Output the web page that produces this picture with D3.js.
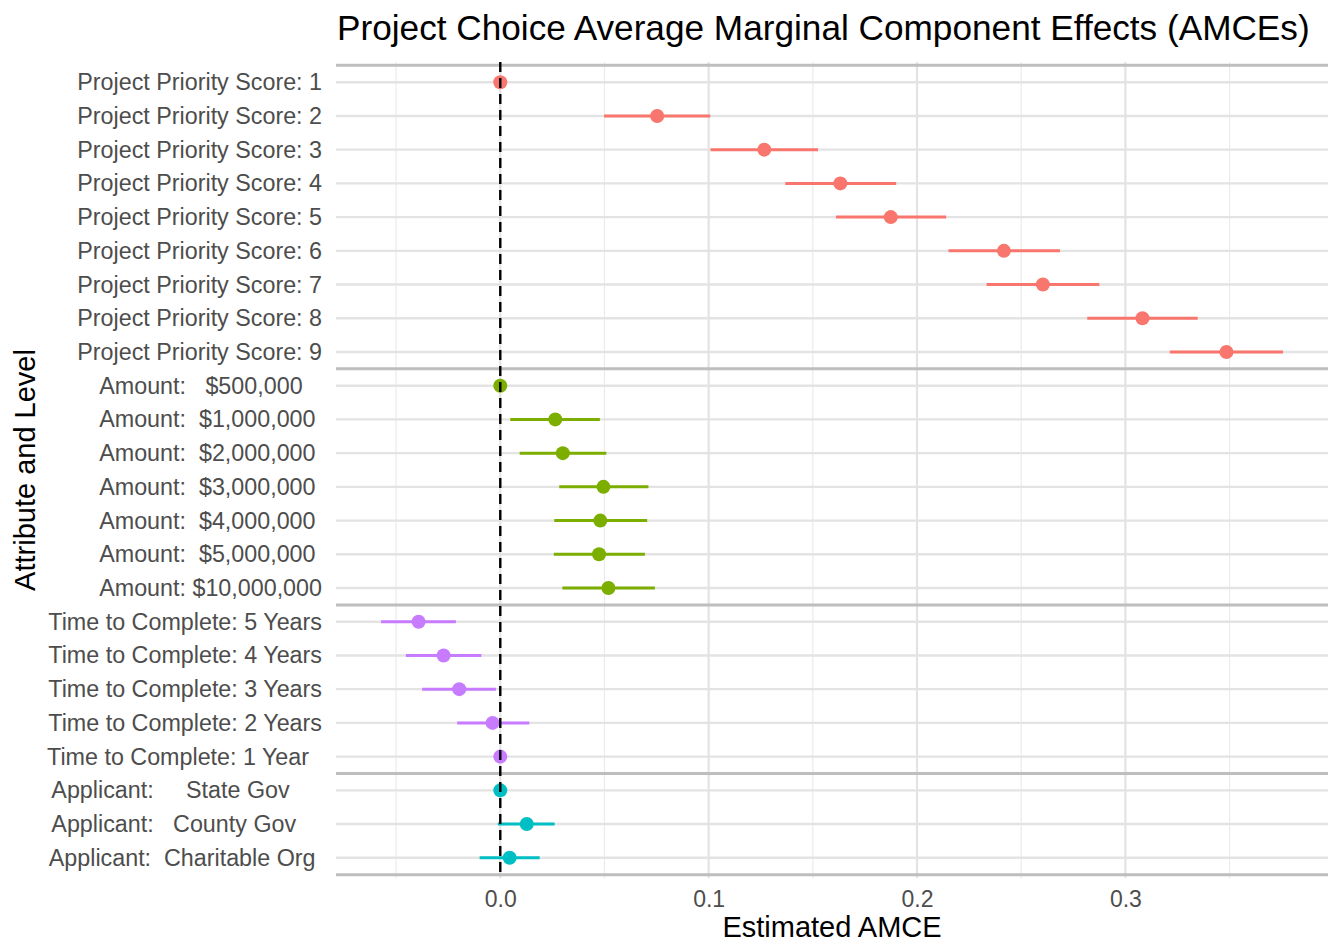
<!DOCTYPE html>
<html>
<head>
<meta charset="utf-8">
<script src="https://cdn.jsdelivr.net/npm/d3@7"></script>
<style>
  body { margin: 0; background: #fff; }
  text { font-family: "Liberation Sans", Arial, sans-serif; }
</style>
</head>
<body>
<div id="chart"></div>
<script>
// levels, top to bottom (padding spaces kept as in the original labels)
var levels = [
  "Project Priority Score: 1", "Project Priority Score: 2", "Project Priority Score: 3",
  "Project Priority Score: 4", "Project Priority Score: 5", "Project Priority Score: 6",
  "Project Priority Score: 7", "Project Priority Score: 8", "Project Priority Score: 9",
  "Amount:   $500,000   ", "Amount:  $1,000,000 ", "Amount:  $2,000,000 ",
  "Amount:  $3,000,000 ", "Amount:  $4,000,000 ", "Amount:  $5,000,000 ",
  "Amount: $10,000,000",
  "Time to Complete: 5 Years", "Time to Complete: 4 Years", "Time to Complete: 3 Years",
  "Time to Complete: 2 Years", "Time to Complete: 1 Year  ",
  "Applicant:     State Gov     ", "Applicant:   County Gov    ", "Applicant:  Charitable Org "
];
var attributes = ["Project Priority Score", "Amount", "Time to Complete", "Applicant"];
var attrOf = [0,0,0,0,0,0,0,0,0, 1,1,1,1,1,1,1, 2,2,2,2,2, 3,3,3];

var estimate = [0, 0.0753, 0.1267, 0.1632, 0.1874, 0.2417, 0.2604, 0.3082, 0.3485,
                0, 0.0264, 0.0300, 0.0495, 0.0480, 0.0474, 0.0519,
                -0.0392, -0.0272, -0.0197, -0.0037, 0,
                0, 0.0127, 0.0045];
var ciLow = [0, 0.0498, 0.1009, 0.1368, 0.1611, 0.2151, 0.2334, 0.2817, 0.3213,
             0, 0.0048, 0.0093, 0.0283, 0.0259, 0.0257, 0.0298,
             -0.0572, -0.0453, -0.0375, -0.0207, 0,
             0, -0.0012, -0.0099];
var ciHigh = [0, 0.1008, 0.1525, 0.1900, 0.2140, 0.2686, 0.2875, 0.3347, 0.3756,
              0, 0.0478, 0.0509, 0.0711, 0.0705, 0.0694, 0.0742,
              -0.0213, -0.0091, -0.0021, 0.0139, 0,
              0, 0.0261, 0.0189];

var xTicks = [0, 0.1, 0.2, 0.3];
var xMinor = [-0.05, 0.05, 0.15, 0.25, 0.35];
var colors = ["#F8766D", "#7CAE00", "#C77CFF", "#00BFC4"];

var W = 1335, H = 944;
var panel = {left: 336, right: 1328, top: 62, bottom: 878};

var svg = d3.select("#chart").append("svg")
  .attr("width", W).attr("height", H);

// x scale with 5% expansion like ggplot
var lo = d3.min(ciLow), hi = d3.max(ciHigh), pad = (hi - lo) * 0.05;
var x = d3.scaleLinear().domain([lo - pad, hi + pad]).range([panel.left, panel.right]);

var y = d3.scalePoint().domain(levels).range([panel.top, panel.bottom]).padding(0.6);
var step = y.step();

// grid
var grid = svg.append("g");
grid.selectAll(".xminor").data(xMinor.filter(function(d){ return x(d) < panel.right; }))
  .enter().append("line")
    .attr("x1", function(d){ return x(d); }).attr("x2", function(d){ return x(d); })
    .attr("y1", panel.top).attr("y2", panel.bottom)
    .attr("stroke", "#EBEBEB").attr("stroke-width", 1.2);
grid.selectAll(".xmajor").data(xTicks)
  .enter().append("line")
    .attr("x1", function(d){ return x(d); }).attr("x2", function(d){ return x(d); })
    .attr("y1", panel.top).attr("y2", panel.bottom)
    .attr("stroke", "#E3E3E3").attr("stroke-width", 2.2);
grid.selectAll(".ymajor").data(levels)
  .enter().append("line")
    .attr("x1", panel.left).attr("x2", panel.right)
    .attr("y1", function(d){ return y(d); }).attr("y2", function(d){ return y(d); })
    .attr("stroke", "#E3E3E3").attr("stroke-width", 2.4);

// separators between attributes
var seps = [];
attributes.forEach(function(a, i) {
  var rows = levels.filter(function(d, j){ return attrOf[j] === i; });
  if (i === 0) seps.push(y(rows[0]) - step / 2);
  seps.push(y(rows[rows.length - 1]) + step / 2);
});
svg.append("g").selectAll("line").data(seps)
  .enter().append("line")
    .attr("x1", panel.left).attr("x2", panel.right)
    .attr("y1", function(d){ return d; }).attr("y2", function(d){ return d; })
    .attr("stroke", "#BEBEBE").attr("stroke-width", 3);

// error bars + points
var rows = levels.map(function(d, i) {
  return {label: d, est: estimate[i], lo: ciLow[i], hi: ciHigh[i], col: colors[attrOf[i]]};
});
svg.append("g").selectAll("line").data(rows)
  .enter().append("line")
    .attr("x1", function(d){ return x(d.lo); }).attr("x2", function(d){ return x(d.hi); })
    .attr("y1", function(d){ return y(d.label); }).attr("y2", function(d){ return y(d.label); })
    .attr("stroke", function(d){ return d.col; }).attr("stroke-width", 3);
svg.append("g").selectAll("circle").data(rows)
  .enter().append("circle")
    .attr("cx", function(d){ return x(d.est); })
    .attr("cy", function(d){ return y(d.label); })
    .attr("r", 7)
    .attr("fill", function(d){ return d.col; });

// zero line
svg.append("line")
  .attr("x1", x(0)).attr("x2", x(0))
  .attr("y1", panel.top).attr("y2", panel.bottom)
  .attr("stroke", "#000").attr("stroke-width", 2.4)
  .attr("stroke-dasharray", "10,6");

// axes
var xAxis = svg.append("g")
  .attr("transform", "translate(0," + panel.bottom + ")")
  .call(d3.axisBottom(x).tickValues(xTicks).tickFormat(d3.format(".1f")).tickSize(0).tickPadding(13));
xAxis.select(".domain").remove();
xAxis.selectAll("text").style("font-size", "23px").attr("fill", "#4D4D4D")
  .style("font-family", "'Liberation Sans', Arial, sans-serif");

var yAxis = svg.append("g")
  .attr("transform", "translate(" + panel.left + ",0)")
  .call(d3.axisLeft(y).tickSize(0).tickPadding(14));
yAxis.select(".domain").remove();
yAxis.selectAll("text").style("font-size", "23.3px").attr("fill", "#4D4D4D")
  .attr("xml:space", "preserve").style("white-space", "pre")
  .style("font-family", "'Liberation Sans', Arial, sans-serif");

// titles
svg.append("text").attr("x", panel.left + 1).attr("y", 40)
  .style("font-size", "35.2px").attr("fill", "#000")
  .text("Project Choice Average Marginal Component Effects (AMCEs)");
svg.append("text").attr("x", (panel.left + panel.right) / 2).attr("y", 937)
  .attr("text-anchor", "middle").style("font-size", "29px").attr("fill", "#000")
  .text("Estimated AMCE");
svg.append("text")
  .attr("transform", "translate(35," + ((panel.top + panel.bottom) / 2) + ") rotate(-90)")
  .attr("text-anchor", "middle").style("font-size", "29px").attr("fill", "#000")
  .text("Attribute and Level");
</script>
</body>
</html>
